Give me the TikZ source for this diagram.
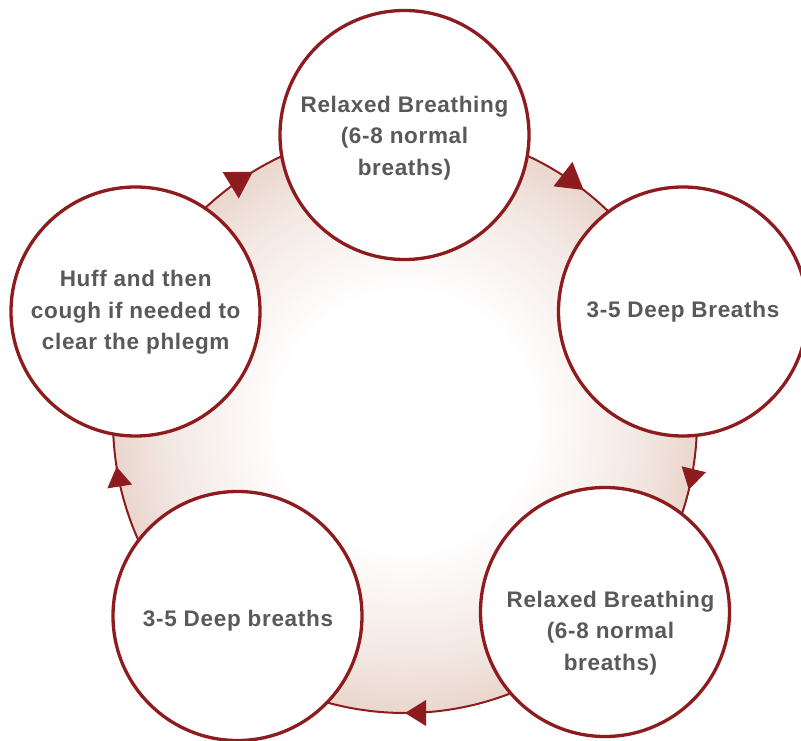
\documentclass[tikz,border=0pt]{standalone}
\usepackage{fontspec}
\setmainfont{Liberation Sans}
\newfontfamily\lblfont{Liberation Sans}[LetterSpace=3]
\definecolor{ring}{RGB}{142,27,30}
\definecolor{txt}{RGB}{89,89,91}
\definecolor{edgepink}{RGB}{234,214,205}
\colorlet{midpink}{edgepink!55!white}
\pgfdeclareradialshading{bigshade}{\pgfpoint{0bp}{0bp}}{color(0bp)=(white); color(11bp)=(white); color(20bp)=(midpink); color(25bp)=(edgepink); color(50bp)=(edgepink)}
\begin{document}
\begin{tikzpicture}[x=1pt,y=1pt,
  stage/.style={circle, draw=ring, line width=3.3pt, fill=white, minimum size=249pt, inner sep=0pt},
  lbl/.style={anchor=base, text=txt, inner sep=0pt, font=\lblfont\bfseries\fontsize{22.5}{27}\selectfont},
  tiparrow/.style={fill=ring}
]
\useasboundingbox (0,0) rectangle (801,740);
\clip (0,0) rectangle (801,740);
\coordinate (C) at (405,319);
\shade[shading=bigshade] (C) circle (292);
\draw[ring, line width=2pt] (C) circle (292);
% arrowheads on the ring (clockwise)
\foreach \a/\w/\l in {121.4/31/26, 52.3/31/26, -13.6/25/21, -90/26/21, 189/25/20} {
  \fill[tiparrow, shift={(C)}, rotate=\a] (292,0) -- (292+\w/2,\l) -- (292-\w/2,\l) -- cycle;
}
% stage circles
\node[stage] (top) at (404.5,605) {};
\node[stage] (right) at (683,428.5) {};
\node[stage] (bright) at (605,128) {};
\node[stage] (bleft) at (237.5,124) {};
\node[stage] (left) at (135.5,428.5) {};
% labels
\node[lbl] (t1) at (404.5,627.7) {Relaxed Breathing};
\node[lbl] (t2) at (404.5,596) {(6-8 normal};
\node[lbl] (t3) at (404.5,564.3) {breaths)};
\node[lbl] (r1) at (683,422.3) {3-5 Deep Breaths};
\node[lbl] (b1) at (610.5,133) {Relaxed Breathing};
\node[lbl] (b2) at (610.5,101.5) {(6-8 normal};
\node[lbl] (b3) at (610.5,70) {breaths)};
\node[lbl] (l1) at (238,113.3) {3-5 Deep breaths};
\node[lbl] (h1) at (135.7,453.3) {Huff and then};
\node[lbl] (h2) at (135.7,421.7) {cough if needed to};
\node[lbl] (h3) at (135.7,390) {clear the phlegm};
\end{tikzpicture}
\end{document}
